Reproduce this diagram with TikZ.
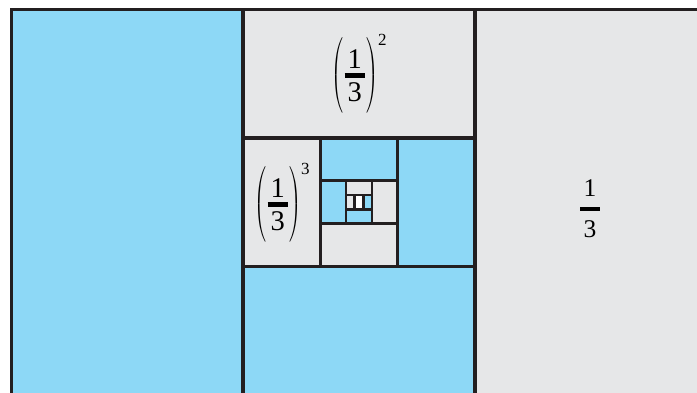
\documentclass[tikz,border=0pt]{standalone}
\usepackage{fix-cm}
\usepackage{amsmath}
\usepackage{graphicx}
\usepackage{fontspec}
\setmainfont{Liberation Serif}
\definecolor{skyb}{HTML}{8DD8F6}
\definecolor{paleg}{HTML}{E6E7E8}
\definecolor{inkc}{HTML}{231F20}
\newcommand\myLparen{\vcenter{\hbox{\resizebox*{12pt}{75pt}{$\Bigg($}}}}
\newcommand\myRparen{\vcenter{\hbox{\resizebox*{12pt}{75pt}{$\Bigg)$}}}}
\newcommand\thirdpow[1]{$\myLparen\genfrac{}{}{4.5pt}{1}{\mbox{\kern3pt 1\kern3pt}}{\mbox{3}}\myRparen^{\smash{\rlap{\mbox{\fontsize{17}{17}\selectfont #1}}}}$}
\tikzset{
  cellb/.style={fill=skyb, draw=inkc, line width=3.2pt},
  cellg/.style={fill=paleg, draw=inkc, line width=3.2pt},
  cellw/.style={fill=white, draw=inkc, line width=2.5pt},
  thin/.style={line width=2.5pt},
  powlabel/.style={inner sep=0pt, font=\fontsize{28.5}{34}\selectfont},
  fraclabel/.style={inner sep=0pt, font=\fontsize{25.5}{30}\selectfont}
}
\begin{document}
\begin{tikzpicture}[x=1pt, y=-1pt]
\useasboundingbox (0,0) rectangle (697,392);
\fill[white] (0,0) rectangle (697,392);
\clip (0,0) rectangle (697,392);
% level 1
\draw[cellb] (11.5,9.5) rectangle (243,395);
\draw[cellg] (475,9.5) rectangle (706.5,395);
% level 2
\draw[cellg] (243,9.5) rectangle (475,138);
\draw[cellb] (243,266.5) rectangle (475,395);
% level 3
\draw[cellg] (243,138) rectangle (320.3,266.5);
\draw[cellb] (397.7,138) rectangle (475,266.5);
% level 4
\draw[cellb] (320.3,138) rectangle (397.7,180.8);
\draw[cellg] (320.3,223.7) rectangle (397.7,266.5);
% level 5
\draw[cellb, thin] (320.3,180.8) rectangle (346.1,223.7);
\draw[cellg, thin] (371.9,180.8) rectangle (397.7,223.7);
% level 6
\draw[cellg, thin] (346.1,180.8) rectangle (371.9,195.1);
\draw[cellb, thin] (346.1,209.4) rectangle (371.9,223.7);
% level 7
\draw[cellg, thin] (346.1,195.1) rectangle (354.7,209.4);
\draw[cellb, thin] (363.3,195.1) rectangle (371.9,209.4);
\draw[cellw] (354.7,195.1) rectangle (363.3,209.4);
% labels
\node[powlabel] (sq) at (355,75.5) {\thirdpow{2}};
\node[powlabel] (cu) at (278,204.5) {\thirdpow{3}};
\node[fraclabel] (th) at (590,209) {$\genfrac{}{}{3.5pt}{0}{\mbox{\kern3.5pt 1\kern3.5pt}}{\mbox{3}}$};
\end{tikzpicture}
\end{document}
